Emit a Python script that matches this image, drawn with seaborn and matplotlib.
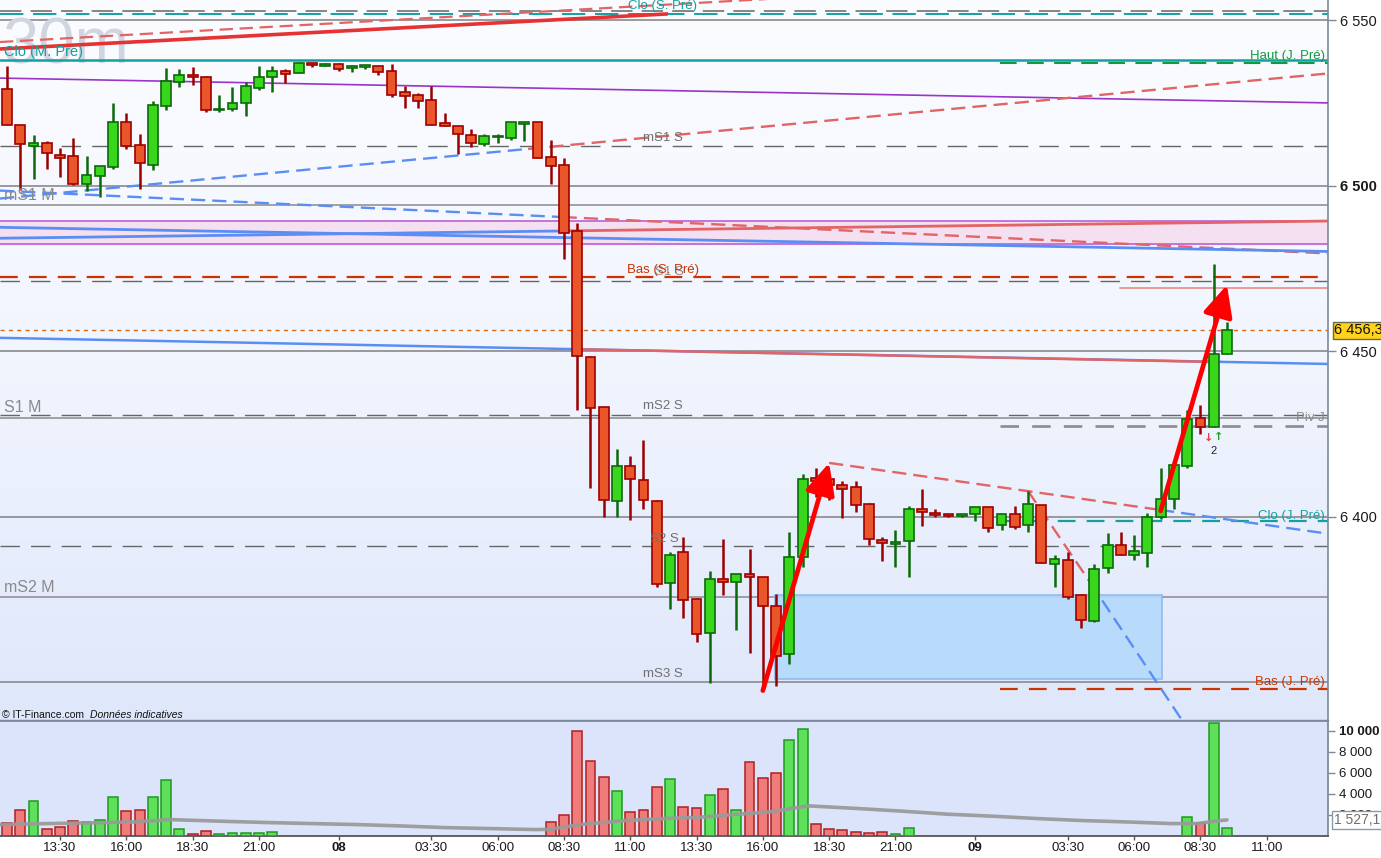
import numpy as np
import pandas as pd
import matplotlib
matplotlib.use("Agg")
import matplotlib.pyplot as plt
import seaborn as sns
from matplotlib.patches import Rectangle, FancyArrowPatch
from matplotlib.colors import LinearSegmentedColormap
import matplotlib.transforms as mtrans

sns.set_theme(style="white")
plt.rcParams['font.family'] = ['Liberation Sans', 'DejaVu Sans']

# ---------------- data ----------------
tick_pos = [4, 9, 14, 19, 25, 32, 37, 42, 47, 52, 57, 62, 67, 73, 80, 85, 90, 95]
tick_labels = ["13:30", "16:00", "18:30", "21:00", "08", "03:30", "06:00", "08:30", "11:00",
               "13:30", "16:00", "18:30", "21:00", "09", "03:30", "06:00", "08:30", "11:00"]

opens = [6529.1, 6518.2, 6512.1, 6512.8, 6509.3, 6509.0, 6500.6, 6502.8, 6505.7, 6519.1,
         6512.2, 6506.2, 6524.2, 6531.4, 6533.3, 6532.7, 6522.9, 6523.1, 6525.1, 6529.6,
         6532.8, 6534.6, 6534.1, 6537.1, 6536.3, 6536.8, 6535.5, 6536.0, 6536.1, 6534.6,
         6528.2, 6527.3, 6525.8, 6518.8, 6517.9, 6515.2, 6512.5, 6514.6, 6514.5, 6518.5,
         6519.1, 6508.6, 6506.2, 6486.4, 6448.1, 6433.0, 6404.6, 6415.2, 6411.0, 6404.6,
         6379.8, 6389.2, 6375.0, 6364.7, 6381.2, 6380.1, 6382.5, 6381.7, 6372.9, 6358.4,
         6387.7, 6411.6, 6411.3, 6409.4, 6408.8, 6403.7, 6392.8, 6391.6, 6392.5, 6402.2,
         6401.0, 6400.7, 6400.3, 6400.7, 6402.8, 6397.4, 6400.8, 6397.3, 6403.4, 6385.6,
         6386.8, 6376.2, 6368.3, 6384.4, 6391.3, 6388.3, 6388.9, 6400.0, 6405.2, 6415.2,
         6429.9, 6427.0, 6449.0]
highs = [6536.2, 6518.2, 6515.3, 6513.5, 6511.3, 6514.4, 6509.0, 6505.8, 6524.9, 6521.9,
         6515.5, 6525.5, 6535.5, 6535.3, 6535.9, 6533.1, 6527.4, 6529.8, 6531.4, 6536.2,
         6536.2, 6535.3, 6537.5, 6537.1, 6537.1, 6537.1, 6536.5, 6536.5, 6536.1, 6536.8,
         6530.1, 6527.9, 6530.1, 6521.9, 6517.9, 6517.0, 6515.6, 6515.6, 6519.1, 6519.1,
         6519.1, 6513.8, 6508.3, 6488.6, 6448.4, 6433.0, 6420.3, 6418.3, 6423.1, 6404.9,
         6389.2, 6393.8, 6375.3, 6383.5, 6393.1, 6382.5, 6390.1, 6381.7, 6376.5, 6395.2,
         6412.9, 6414.7, 6411.3, 6410.6, 6410.6, 6404.1, 6393.7, 6395.8, 6403.2, 6408.2,
         6402.4, 6400.7, 6400.7, 6402.8, 6402.8, 6401.2, 6403.2, 6407.6, 6403.4, 6388.3,
         6389.4, 6376.7, 6385.7, 6395.0, 6395.3, 6394.4, 6401.2, 6414.6, 6415.5, 6432.1,
         6433.7, 6476.3, 6458.8]
lows = [6518.2, 6498.7, 6502.0, 6505.1, 6502.7, 6500.2, 6498.5, 6496.7, 6505.1, 6511.2,
        6499.1, 6504.7, 6523.0, 6529.9, 6530.5, 6522.2, 6522.2, 6522.7, 6521.0, 6528.9,
        6528.3, 6531.0, 6534.1, 6535.9, 6536.2, 6534.6, 6534.3, 6535.3, 6533.4, 6526.8,
        6523.6, 6523.6, 6518.4, 6517.9, 6509.6, 6511.8, 6512.1, 6513.0, 6513.9, 6513.6,
        6508.3, 6500.5, 6477.8, 6432.2, 6408.5, 6400.0, 6400.0, 6399.0, 6402.4, 6378.6,
        6371.9, 6369.4, 6362.0, 6349.6, 6376.2, 6365.8, 6358.9, 6347.6, 6348.7, 6355.5,
        6384.8, 6406.0, 6405.0, 6399.4, 6401.5, 6391.5, 6386.7, 6384.8, 6381.8, 6397.0,
        6399.8, 6399.8, 6399.8, 6398.6, 6395.3, 6396.0, 6396.1, 6395.4, 6385.9, 6378.8,
        6375.0, 6366.4, 6368.0, 6382.9, 6388.4, 6386.9, 6384.8, 6399.2, 6402.2, 6414.6,
        6425.0, 6427.0, 6449.0]
closes = [6518.2, 6512.5, 6512.9, 6509.8, 6508.3, 6500.5, 6503.2, 6505.8, 6519.1, 6512.1,
          6506.8, 6524.3, 6531.5, 6533.3, 6532.7, 6522.8, 6523.2, 6524.9, 6530.1, 6532.8,
          6534.6, 6533.8, 6537.1, 6536.6, 6536.8, 6535.2, 6536.1, 6536.5, 6534.4, 6527.5,
          6527.2, 6525.7, 6518.4, 6517.9, 6515.5, 6512.8, 6514.9, 6515.1, 6519.1, 6519.1,
          6508.3, 6505.8, 6485.6, 6448.4, 6432.7, 6405.0, 6415.2, 6411.3, 6404.9, 6379.5,
          6388.3, 6374.7, 6364.4, 6381.0, 6380.1, 6382.5, 6381.7, 6372.9, 6357.8, 6387.7,
          6411.3, 6410.8, 6409.5, 6408.4, 6403.4, 6393.1, 6391.9, 6392.2, 6402.2, 6401.3,
          6400.4, 6400.3, 6400.7, 6402.8, 6396.6, 6400.8, 6396.9, 6403.9, 6385.9, 6387.1,
          6375.8, 6368.7, 6384.1, 6391.3, 6388.4, 6389.5, 6399.9, 6405.2, 6415.5, 6429.6,
          6427.0, 6449.0, 6456.3]
volumes = ([1280, 2510, 3280, 700, 900, 1470, 1370, 1560, 3660, 2420, 2510, 3660, 5280,
            700, 230, 510, 230, 320, 320, 320, 420]
           + [0] * 20
           + [1370, 1970, 9970, 7090, 5590, 4230, 2320, 2510, 4640, 5370, 2800, 2700, 3940,
              4420, 2510, 6990, 5470, 5940, 9090, 10130, 1180, 700, 610, 420, 320, 420, 230, 800]
           + [0] * 20
           + [1850, 1280, 10700, 800])
ma_pos = [-0.5, 3, 6, 9.6, 11.6, 12.2, 14.6, 17, 19.7, 23, 26.4, 29.8, 33, 36.5, 39.9, 41,
          43.2, 46.6, 50, 52, 54.1, 57.5, 59.9, 60.5, 64.2, 67.6, 71, 74.4, 77.7, 81.1, 84.5,
          87.8, 89.8, 91.2, 92]
ma_vals = [1086, 1181, 1238, 1333, 1495, 1562, 1467, 1371, 1276, 1181, 1086, 952, 800, 705,
           610, 638, 1086, 1467, 1686, 1752, 1971, 2286, 2762, 2857, 2610, 2352, 2067, 1876,
           1657, 1467, 1333, 1181, 1181, 1429, 1527]
last_price = 6456.3
last_ma = 1527.1

price_ticks = [6400, 6450, 6500, 6550]
price_tick_labels = ["6 400", "6 450", "6 500", "6 550"]
vol_ticks = [2000, 4000, 6000, 8000, 10000]
vol_tick_labels = ["2 000", "4 000", "6 000", "8 000", "10 000"]

df = pd.DataFrame({"i": np.arange(len(opens)), "open": opens, "high": highs,
                   "low": lows, "close": closes, "vol": volumes})
df["up"] = df["close"] >= df["open"]

# ---------------- figure ----------------
W, H = 1381, 858
fig = plt.figure(figsize=(W / 100, H / 100), dpi=100)
fig.patch.set_facecolor("white")


def fx(px):
    return px / W


def fy(py):
    return 1 - py / H


ax = fig.add_axes([0, fy(720), fx(1328), 720 / H])
axv = fig.add_axes([0, fy(836), fx(1328), (836 - 721) / H])

XL = (-0.528, 99.62)
YL = (6338.5, 6556.1)

# background gradient
cmap = LinearSegmentedColormap.from_list("bg", ["#fbfcff", "#f1f5fe", "#dfe7fb"])
grad = np.linspace(0, 1, 256).reshape(-1, 1)
ax.imshow(grad, extent=[0, 1, 0, 1], transform=ax.transAxes, aspect="auto",
          cmap=cmap, zorder=0, origin="upper")
axv.set_facecolor("#dbe4fb")

GRAY = "#8a8a8a"
GDASH = "#666666"
TEAL = "#12a0a0"
RED_LVL = "#cc3300"
BLUE_T = "#5b8ef5"
RED_T = "#e26464"

# grid lines every 50
for p in [6350, 6400, 6450, 6500, 6550]:
    ax.axhline(p, color=GRAY, lw=1.2, zorder=1)

# horizontal levels: (price, color, lw, style, start index)
levels = [
    (6552.7, GDASH, 1.1, (0, (14, 6)), None),
    (6551.9, TEAL, 1.4, (0, (12, 5)), None),
    (6538.0, TEAL, 1.8, "-", None),
    (6537.1, "#119944", 1.5, (0, (8, 5)), 74.9),
    (6512.0, GDASH, 1.0, (0, (14, 8)), None),
    (6494.2, GRAY, 1.1, "-", None),
    (6472.4, RED_LVL, 1.6, (0, (8, 5)), None),
    (6471.2, GDASH, 1.0, (0, (14, 8)), None),
    (6469.1, "#e89a9a", 1.4, "-", 83.9),
    (6430.8, GDASH, 1.0, (0, (14, 8)), None),
    (6429.7, GRAY, 1.1, "-", None),
    (6427.4, "#8c8c8c", 1.9, (0, (7, 5)), 74.9),
    (6398.5, TEAL, 1.6, (0, (8, 5)), 74.9),
    (6391.2, GDASH, 1.0, (0, (14, 8)), None),
    (6375.6, GRAY, 1.1, "-", None),
    (6347.8, RED_LVL, 1.6, (0, (8, 5)), 74.9),
]
for p, c, lw, ls, x0 in levels:
    ax.plot([XL[0] if x0 is None else x0, XL[1]], [p, p], color=c, lw=lw, ls=ls, zorder=2)

# current price dotted
ax.axhline(last_price, color="#d86a1a", lw=1.0, ls=(0, (3, 3)), zorder=2)

# pink band
ax.axhspan(6482.4, 6489.3, color="#f6dcef", alpha=0.85, zorder=1)
ax.axhline(6489.3, color="#b455d6", lw=1.1, zorder=2)
ax.axhline(6482.4, color="#b455d6", lw=1.1, zorder=2)

# trend lines: (x0, y0, x1, y1, color, lw, style)
DASH_T = (0, (6, 3))
trends = [
    (-0.53, 6541.3, 49.85, 6551.9, "#e63232", 2.6, "-"),
    (-0.53, 6543.4, 60.0, 6557.0, RED_T, 1.6, DASH_T),
    (-0.53, 6532.5, 99.62, 6525.0, "#9a35c8", 1.2, "-"),
    (-0.53, 6498.5, 41.9, 6490.5, BLUE_T, 1.7, DASH_T),
    (41.9, 6490.5, 99.62, 6479.5, RED_T, 1.7, DASH_T),
    (-0.53, 6496.1, 39.3, 6511.1, BLUE_T, 1.7, DASH_T),
    (39.3, 6511.1, 99.62, 6533.9, RED_T, 1.7, DASH_T),
    (-0.53, 6487.4, 99.62, 6480.1, BLUE_T, 2.0, "-"),
    (-0.53, 6484.1, 41.9, 6486.3, BLUE_T, 2.0, "-"),
    (41.9, 6486.3, 99.62, 6489.3, RED_T, 2.0, "-"),
    (-0.53, 6454.0, 99.62, 6446.1, BLUE_T, 1.8, "-"),
    (43.0, 6450.55, 91.1, 6446.7, RED_T, 1.8, "-"),
    (62.0, 6416.2, 86.95, 6402.0, RED_T, 1.7, DASH_T),
    (86.95, 6402.0, 99.62, 6394.8, BLUE_T, 1.7, DASH_T),
    (77.0, 6407.7, 81.7, 6380.0, RED_T, 1.7, DASH_T),
    (81.7, 6380.0, 88.6, 6338.5, BLUE_T, 1.7, DASH_T),
]
for x0, y0, x1, y1, c, lw, ls in trends:
    ax.plot([x0, x1], [y0, y1], color=c, lw=lw, ls=ls, zorder=3, solid_capstyle="butt")

# blue rectangle zone
ax.add_patch(Rectangle((57.9, 6350.9), 87.1 - 57.9, 6376.3 - 6350.9,
                       facecolor="#b5dafc", edgecolor="#86b8f0", lw=1.2, alpha=0.9, zorder=2.5))

# candles
BW = 0.74
for up, fc, ec, wc in [(True, "#3ad61c", "#0a6a0a", "#0a6a0a"),
                       (False, "#e8562a", "#a00000", "#9a0000")]:
    d = df[df["up"] == up]
    ax.vlines(d["i"], d["low"], d["high"], color=wc, lw=1.8, zorder=4)
    body_lo = np.minimum(d["open"], d["close"])
    body_h = np.maximum(np.abs(d["close"] - d["open"]), 0.3)
    ax.bar(d["i"], body_h, bottom=body_lo, width=BW, color=fc, edgecolor=ec,
           linewidth=1.2, zorder=5)

# arrows
for (xa, ya), (xb, yb) in [((57.0, 6347.4), (62.0, 6416.2)), ((87.0, 6401.7), (92.0, 6470.0))]:
    arr = FancyArrowPatch((xa, ya), (xb, yb), arrowstyle="-|>,head_length=0.95,head_width=0.45",
                          mutation_scale=20, lw=3.4, color="#ff0000", zorder=7,
                          shrinkA=0, shrinkB=0)
    ax.add_patch(arr)

ax.set_xlim(*XL)
ax.set_ylim(*YL)

# right price axis
ax.yaxis.tick_right()
ax.set_yticks(price_ticks)
ax.set_yticklabels(price_tick_labels)
ax.tick_params(axis="y", length=6, width=1, color="#7a8a9a", labelsize=10.5,
               labelcolor="#1a1a1a", pad=3, right=True, left=False)
for lab in ax.get_yticklabels():
    if lab.get_text() == "6 500":
        lab.set_fontweight("bold")
ax.tick_params(axis="x", bottom=False, labelbottom=False)
for s in ["top", "left"]:
    ax.spines[s].set_visible(False)
ax.spines["right"].set_color("#7a8a9a")
ax.spines["right"].set_linewidth(1.2)
ax.spines["bottom"].set_color("#7a8a9a")
ax.spines["bottom"].set_linewidth(1.0)
ax.set_xlabel("")
ax.set_ylabel("")

trans_r = mtrans.blended_transform_factory(ax.transAxes, ax.transData)
ax.text(1.0045, last_price, "6 456,3", transform=trans_r, va="center", ha="left",
        fontsize=10.5, color="#111111", zorder=10, clip_on=False,
        bbox=dict(boxstyle="square,pad=0.1", fc="#ffd21c", ec="#6a6a4a", lw=1))

# ---------------- volume panel ----------------
dv = df[df["vol"] > 0]
for up, fc, ec in [(True, "#5fe05a", "#1f9a1f"), (False, "#f07b7b", "#b02020")]:
    sub = dv[dv["up"] == up]
    sns.barplot(data=sub, x="i", y="vol", native_scale=True, color=fc, edgecolor=ec,
                linewidth=1.1, width=0.74, errorbar=None, saturation=1, ax=axv, zorder=3)
sns.lineplot(x=ma_pos, y=ma_vals, color="#9a9a9a", linewidth=2.6, sort=False, ax=axv,
             zorder=4, alpha=0.95)

axv.set_xlim(*XL)
axv.set_ylim(0, 10924)
axv.yaxis.tick_right()
axv.set_yticks(vol_ticks)
axv.set_yticklabels(vol_tick_labels)
axv.tick_params(axis="y", length=5, width=1, color="#7a8a9a", labelsize=9.5,
                labelcolor="#1a1a1a", pad=3, right=True, left=False)
for lab in axv.get_yticklabels():
    if lab.get_text() == "10 000":
        lab.set_fontweight("bold")
axv.set_xticks(tick_pos)
axv.set_xticklabels(tick_labels)
axv.tick_params(axis="x", length=3, width=1, color="#555555", labelsize=9.5,
                labelcolor="#1a1a1a", pad=1.5, bottom=True)
for lab in axv.get_xticklabels():
    if lab.get_text() in ("08", "09"):
        lab.set_fontweight("bold")
axv.spines["left"].set_visible(False)
axv.spines["top"].set_color("#7a8a9a")
axv.spines["right"].set_color("#7a8a9a")
axv.spines["bottom"].set_color("#555555")
axv.spines["bottom"].set_linewidth(1.3)
axv.set_xlabel("")
axv.set_ylabel("")
trans_v = mtrans.blended_transform_factory(axv.transAxes, axv.transData)
axv.text(1.0045, last_ma, "1 527,1", transform=trans_v, va="center", ha="left",
         fontsize=10, color="#707070", zorder=10, clip_on=False,
         bbox=dict(boxstyle="square,pad=0.15", fc="#ffffff", ec="#8a9aaa", lw=1))


# ---------------- text labels ----------------
def T(px, py, s, target=ax, **kw):
    kw.setdefault("va", "center")
    kw.setdefault("ha", "left")
    kw.setdefault("zorder", 6)
    target.text(fx(px), fy(py), s, transform=fig.transFigure, **kw)


T(3, 63, "30m", fontsize=47, color="#cfd6e1", zorder=1.5, va="baseline")
T(4, 52, "Clo (M. Pré)", fontsize=10.5, color=TEAL)
T(4, 196, "mS1 M", fontsize=11.5, color="#8a8a8a")
T(4, 408, "S1 M", fontsize=11.5, color="#8a8a8a")
T(4, 587, "mS2 M", fontsize=11.5, color="#8a8a8a")
T(628, 6, "Clo (S. Pré)", fontsize=9.5, color=TEAL)
T(643, 138, "mS1 S", fontsize=9.5, color="#707070")
T(655, 272, "S1 S", fontsize=9.5, color="#8a8a8a")
T(627, 270, "Bas (S. Pré)", fontsize=9.5, color=RED_LVL)
T(643, 406, "mS2 S", fontsize=9.5, color="#707070")
T(650, 539, "S2 S", fontsize=9.5, color="#707070")
T(643, 674, "mS3 S", fontsize=9.5, color="#707070")
T(1325, 56, "Haut (J. Pré)", fontsize=9.5, color="#119944", ha="right")
T(1325, 418, "Piv J", fontsize=9.5, color="#8a8a8a", ha="right")
T(1325, 516, "Clo (J. Pré)", fontsize=9.5, color=TEAL, ha="right")
T(1325, 682, "Bas (J. Pré)", fontsize=9.5, color=RED_LVL, ha="right")
T(1214, 451, "2", fontsize=8, color="#222222", ha="center")
T(1209, 438, "↓", fontsize=8, color="#e04040", ha="center", fontweight="bold",
  fontfamily="DejaVu Sans")
T(1219, 437, "↑", fontsize=8, color="#20a020", ha="center", fontweight="bold",
  fontfamily="DejaVu Sans")
T(2, 715, "© IT-Finance.com", fontsize=7.5, color="#111111", zorder=8)
T(90, 715, "Données indicatives", fontsize=7.5, color="#111111", style="italic", zorder=8)

fig.savefig("out.png", dpi=100, facecolor="white")
